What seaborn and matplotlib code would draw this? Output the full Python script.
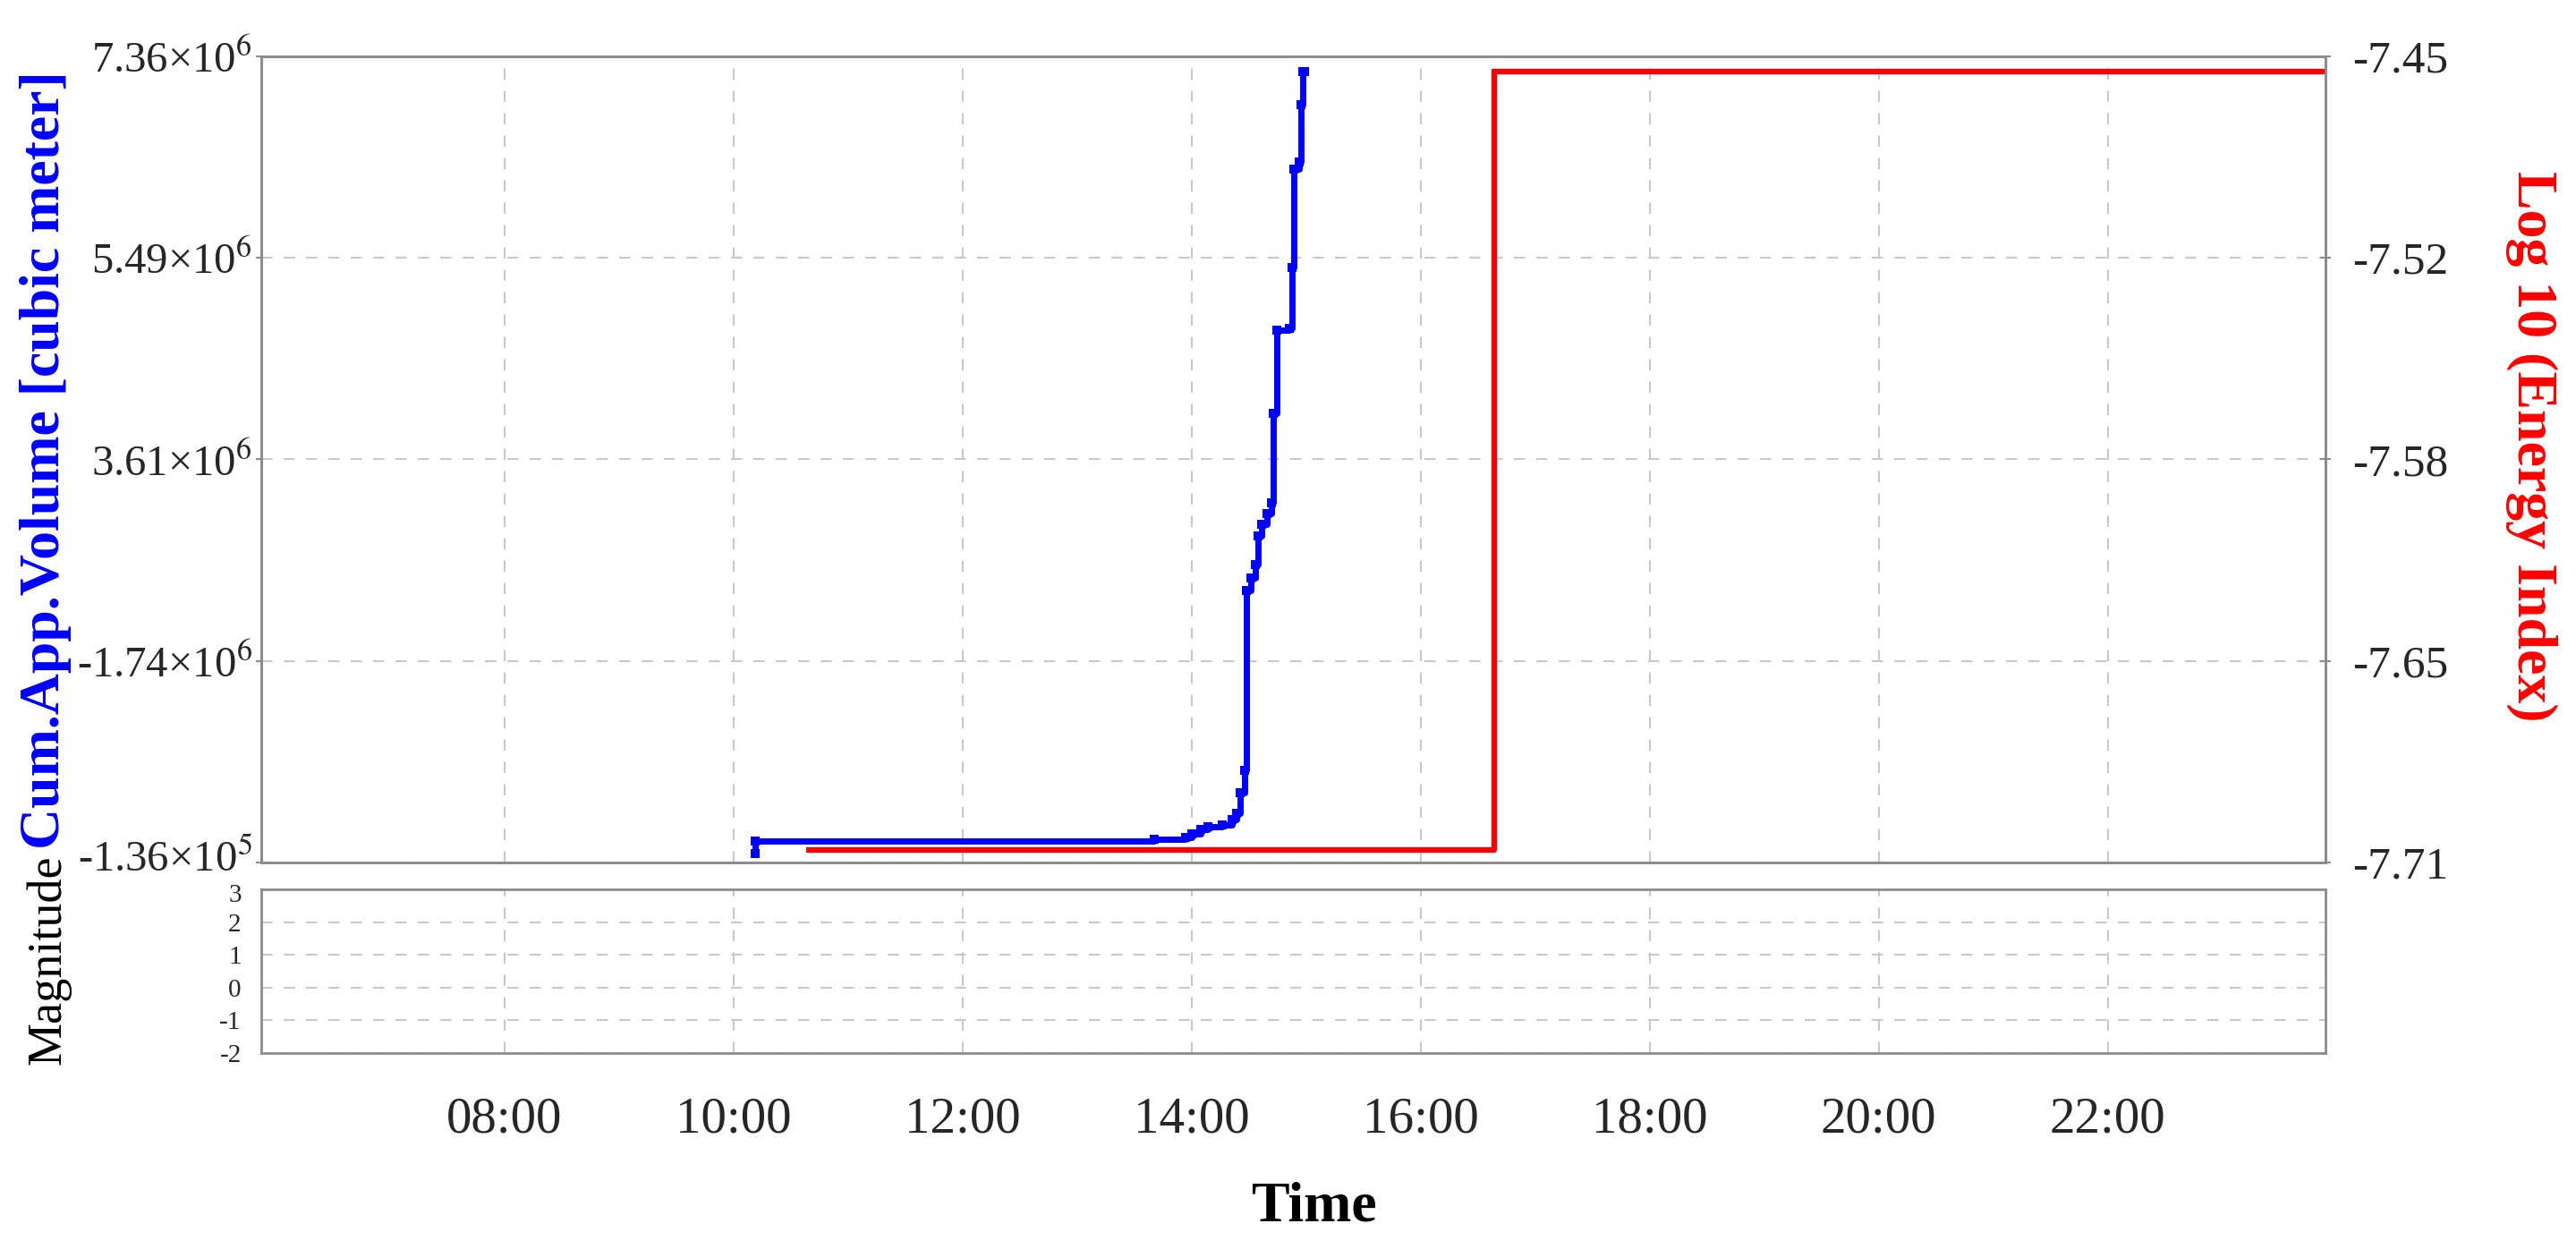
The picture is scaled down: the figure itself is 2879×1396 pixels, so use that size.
import matplotlib
matplotlib.use("Agg")
import pandas as pd
import matplotlib.pyplot as plt
import matplotlib.transforms as mtransforms
import seaborn as sns

# cumulative apparent volume (blue), time in hours of the day
vol_time = [10.185, 10.19, 13.67, 13.95, 14.00, 14.08, 14.14, 14.27, 14.35, 14.39,
            14.42, 14.46, 14.475, 14.52, 14.56, 14.58, 14.61, 14.66, 14.70, 14.71,
            14.74, 14.85, 14.875, 14.895, 14.94, 14.955, 14.97, 14.985]
vol_value = [-0.05e6, 0.064e6, 0.08e6, 0.10e6, 0.13e6, 0.17e6, 0.20e6, 0.21e6, 0.26e6, 0.32e6,
             0.51e6, 0.72e6, 2.39e6, 2.51e6, 2.63e6, 2.90e6, 3.01e6, 3.11e6, 3.21e6, 4.04e6,
             4.81e6, 4.83e6, 5.40e6, 6.31e6, 6.38e6, 6.91e6, 7.22e6, 7.22e6]

# log10 energy index (red)
en_time = [10.66, 16.64, 22.6, 23.9]
en_value = [-7.706, -7.455, -7.455, -7.455]

time_ticks = [8, 10, 12, 14, 16, 18, 20, 22]
time_labels = ["08:00", "10:00", "12:00", "14:00", "16:00", "18:00", "20:00", "22:00"]

vol_ticks = [-1.36e5, 1.738e6, 3.612e6, 5.486e6, 7.36e6]
vol_labels = ["-1.36×10$^{5}$", "-1.74×10$^{6}$", "3.61×10$^{6}$", "5.49×10$^{6}$", "7.36×10$^{6}$"]

en_ticks = [-7.71, -7.645, -7.58, -7.515, -7.45]
en_labels = ["-7.71", "-7.65", "-7.58", "-7.52", "-7.45"]

mag_ticks = [-2, -1, 0, 1, 2, 3]
mag_labels = ["-2", "-1", "0", "1", "2", "3"]

sns.set_style("white")
plt.rcParams["font.family"] = ["Liberation Serif", "DejaVu Serif"]
plt.rcParams["mathtext.fontset"] = "stix"

spine_c = "#8c8c8c"
grid_c = "#c8c8c8"

fig = plt.figure(figsize=(28.79, 13.96), dpi=100)
ax = fig.add_axes([0.1014, 0.3095, 0.8013, 0.6454])
axm = fig.add_axes([0.1014, 0.1569, 0.8013, 0.1311], sharex=ax)
ax2 = ax.twinx()

vol_df = pd.DataFrame({"time": vol_time, "volume": vol_value})
en_df = pd.DataFrame({"time": en_time, "energy": en_value})

sns.lineplot(data=vol_df, x="time", y="volume", ax=ax, color="#0000ff", lw=5,
             estimator=None, sort=False, drawstyle="steps-post",
             marker="s", markersize=7, markeredgewidth=0)
sns.lineplot(data=en_df, x="time", y="energy", ax=ax2, color="#ff0000", lw=4.5,
             estimator=None, sort=False, drawstyle="steps-post",
             marker="s", markersize=4, markeredgewidth=0)

ax.set_xlim(5.875, 23.9)
ax.set_ylim(vol_ticks[0], vol_ticks[-1])
ax2.set_ylim(en_ticks[0], en_ticks[-1])
axm.set_ylim(-2, 3)

ax.set_yticks(vol_ticks)
ax.set_yticklabels(vol_labels)
ax2.set_yticks(en_ticks)
ax2.set_yticklabels(en_labels)
axm.set_yticks(mag_ticks)
axm.set_yticklabels(mag_labels)
axm.set_xticks(time_ticks)
axm.set_xticklabels(time_labels)

for a in (ax, ax2, axm):
    a.set_xlabel("")
    a.set_ylabel("")
    for s in a.spines.values():
        s.set_color(spine_c)
        s.set_linewidth(2)

ax.tick_params(axis="x", length=0, labelbottom=False)
ax.tick_params(axis="y", direction="out", length=4, width=1.5, color=spine_c,
               labelsize=35, pad=3)
ax2.tick_params(axis="y", direction="inout", length=8, width=1.5, color=spine_c,
                labelsize=37, pad=18)
axm.tick_params(axis="y", direction="out", length=4, width=1.5, color=spine_c,
                labelsize=21, pad=12)
axm.tick_params(axis="x", direction="inout", length=10, width=1.5, color=spine_c,
                labelsize=41, pad=30)

# the bottom volume label sits slightly above its tick, the top magnitude label slightly below
lbl_low = ax.get_yticklabels()[0]
lbl_low.set_transform(lbl_low.get_transform()
                      + mtransforms.ScaledTranslation(0, 8 / 100, fig.dpi_scale_trans))
lbl_top = axm.get_yticklabels()[-1]
lbl_top.set_transform(lbl_top.get_transform()
                      + mtransforms.ScaledTranslation(0, -4 / 100, fig.dpi_scale_trans))

ax.grid(True, color=grid_c, linestyle=(0, (6, 6)), linewidth=1.5)
axm.grid(True, color=grid_c, linestyle=(0, (6, 6)), linewidth=1.5)
ax2.grid(False)
ax.set_axisbelow(True)

fig.text(0.0177, 0.632, "Cum.App.Volume [cubic meter]", rotation=90, ha="center",
         va="center", color="#0000ff", fontsize=46, fontweight="bold")
fig.text(0.9826, 0.643, "Log 10 (Energy Index)", rotation=270, ha="center",
         va="center", color="#ff0000", fontsize=46, fontweight="bold")
fig.text(0.019, 0.2314, "Magnitude", rotation=90, ha="center", va="center",
         color="black", fontsize=39)
fig.text(0.510, 0.0334, "Time", ha="center", va="center", color="black",
         fontsize=46, fontweight="bold")

fig.savefig("out.png", dpi=100, facecolor="white")
